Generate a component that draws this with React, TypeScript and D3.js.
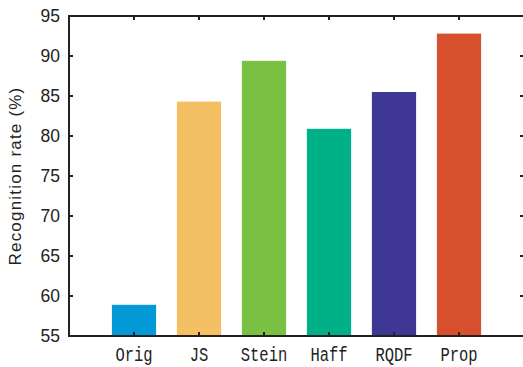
import React from 'react';
import * as d3 from 'd3';

const methods = ['Orig', 'JS', 'Stein', 'Haff', 'RQDF', 'Prop'];
const rates = [58.9, 84.3, 89.4, 80.9, 85.5, 92.8];
const colors = ['#0399d6', '#f5bf63', '#7ac143', '#00b086', '#3e3894', '#d6502d'];
const yTicks = [55, 60, 65, 70, 75, 80, 85, 90, 95];

const width = 523;
const height = 367;
const margin = { top: 16, right: -1, bottom: 31, left: 69 };

const App = () => {
  const innerW = width - margin.left - margin.right;
  const innerH = height - margin.top - margin.bottom;

  // categories sit at 1..6 on a 0..7 axis
  const x = d3.scaleLinear().domain([0, methods.length + 1]).range([0, innerW]);
  const y = d3.scaleLinear().domain([55, 95]).range([innerH, 0]);
  const barW = (x(1) - x(0)) * 0.68;

  return (
    <svg
      width={width}
      height={height}
      style={{ position: 'absolute', left: 0, top: 0, background: '#fff' }}
    >
      <g transform={`translate(${margin.left},${margin.top})`}>
        {rates.map((v, i) => (
          <rect
            key={methods[i]}
            x={x(i + 1) - barW / 2}
            y={y(v)}
            width={barW}
            height={innerH - y(v)}
            fill={colors[i]}
          />
        ))}

        {/* box */}
        <rect x={0} y={0} width={innerW} height={innerH} fill="none" stroke="#222" strokeWidth={2} />

        {yTicks.map(t => (
          <g key={t}>
            <line x1={0} x2={4} y1={y(t)} y2={y(t)} stroke="#222" strokeWidth={2} />
            <line x1={innerW - 4} x2={innerW} y1={y(t)} y2={y(t)} stroke="#222" strokeWidth={2} />
            <text
              x={-9}
              y={y(t)}
              dy="0.36em"
              textAnchor="end"
              fontFamily="Liberation Sans, Arial, sans-serif"
              fontSize={17.5}
              fill="#222"
            >
              {t}
            </text>
          </g>
        ))}

        {methods.map((m, i) => (
          <g key={m}>
            <line x1={x(i + 1)} x2={x(i + 1)} y1={innerH} y2={innerH - 4} stroke="#222" strokeWidth={2} />
            <line x1={x(i + 1)} x2={x(i + 1)} y1={0} y2={4} stroke="#222" strokeWidth={2} />
            <text
              transform={`translate(${x(i + 1)},${innerH + 25}) scale(1,1.3)`}
              textAnchor="middle"
              fontFamily="Liberation Mono, monospace"
              fontSize={15.5}
              fill="#222"
            >
              {m}
            </text>
          </g>
        ))}

        <text
          transform={`translate(${-48},${innerH / 2}) rotate(-90)`}
          textAnchor="middle"
          fontFamily="Liberation Sans, Arial, sans-serif"
          fontSize={17}
          letterSpacing={1.2}
          fill="#222"
        >
          Recognition rate (%)
        </text>
      </g>
    </svg>
  );
};

export default App;
